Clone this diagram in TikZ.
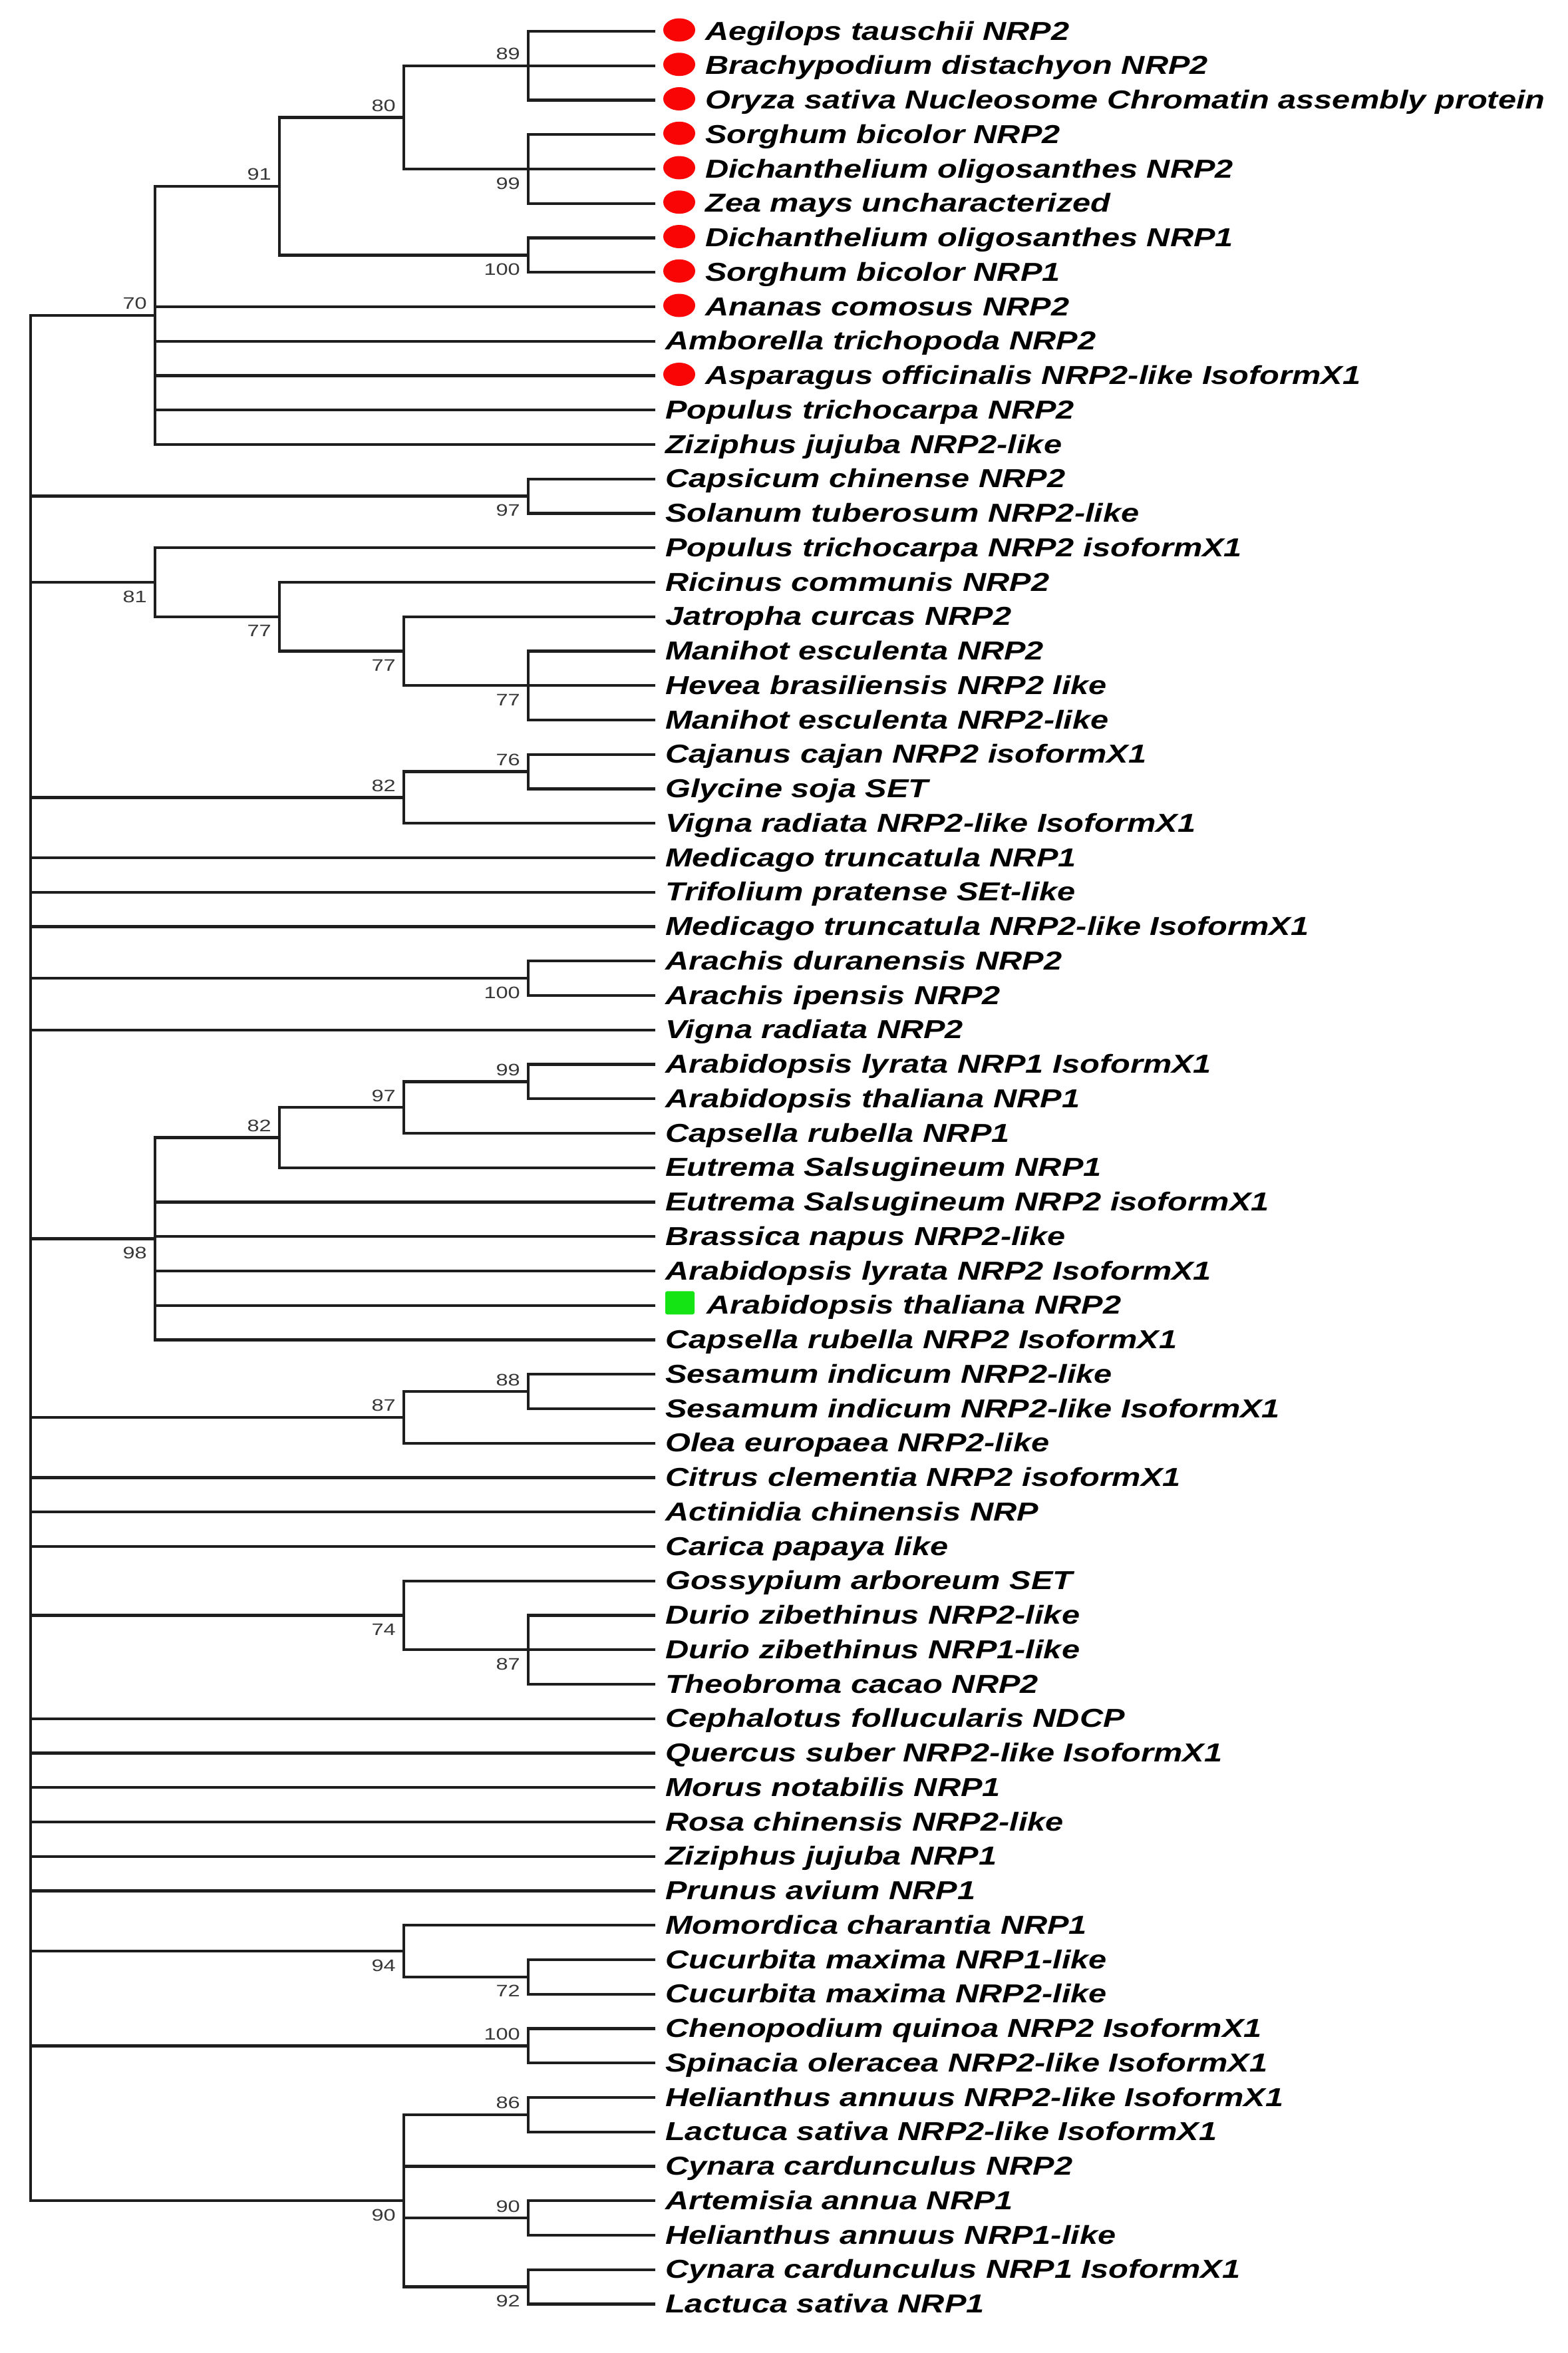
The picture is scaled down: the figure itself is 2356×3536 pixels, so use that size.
\documentclass[tikz,border=0pt]{standalone}
\usepackage{fontspec}
\newfontfamily\leaffont{Liberation Sans}[FakeStretch=1.25]
\newfontfamily\bsfont{Liberation Sans}[FakeStretch=1.3]
\definecolor{dotred}{RGB}{250,5,5}
\definecolor{sqgreen}{RGB}{20,228,20}
\definecolor{branchcol}{RGB}{30,30,30}
\definecolor{bscol}{RGB}{55,55,55}
\pgfmathdeclarefunction{ly}{1}{\pgfmathparse{47+51.75*#1}}
\tikzset{
  br/.style={draw=branchcol, line width=4.4pt, line cap=rect},
  leaftext/.style={anchor=base west, inner sep=0pt, font={\leaffont\fontsize{39pt}{39pt}\selectfont\bfseries\itshape}},
  reddot/.style={ellipse, fill=dotred, minimum width=48pt, minimum height=35pt, inner sep=0pt},
  greensq/.style={rectangle, rounded corners=3pt, fill=sqgreen, minimum width=44pt, minimum height=35pt, inner sep=0pt},
  bs/.style={inner sep=0pt, text=bscol, font={\bsfont\fontsize{25pt}{25pt}\selectfont}},
  bsup/.style={bs, anchor=base east, xshift=-12pt, yshift=9pt},
  bsdn/.style={bs, anchor=base east, xshift=-12pt, yshift=-30pt}
}
\usetikzlibrary{shapes.geometric}
\begin{document}
\begin{tikzpicture}[x=1pt,y=-1pt]
\fill[white] (0,0) rectangle (2356,3536);
\useasboundingbox (0,0) rectangle (2356,3536);

% leaves with red markers
\foreach \i/\t in {0/Aegilops tauschii NRP2, 1/Brachypodium distachyon NRP2,
  2/Oryza sativa Nucleosome Chromatin assembly protein, 3/Sorghum bicolor NRP2,
  4/Dichanthelium oligosanthes NRP2, 5/Zea mays uncharacterized,
  6/Dichanthelium oligosanthes NRP1, 7/Sorghum bicolor NRP1,
  8/Ananas comosus NRP2, 10/Asparagus officinalis NRP2-like IsoformX1}{
  \coordinate (L\i) at (983,{ly(\i)});
  \node[reddot] (M\i) at (1021,{ly(\i)-2}) {};
  \node[leaftext] (T\i) at (1060,{ly(\i)+13}) {\t};
}
% leaf with green marker
\coordinate (L37) at (983,{ly(37)});
\node[greensq] (M37) at (1022,{ly(37)-4}) {};
\node[leaftext] (T37) at (1062,{ly(37)+13}) {Arabidopsis thaliana NRP2};
% plain leaves
\foreach \i/\t in {9/Amborella trichopoda NRP2, 11/Populus trichocarpa NRP2,
  12/Ziziphus jujuba NRP2-like, 13/Capsicum chinense NRP2,
  14/Solanum tuberosum NRP2-like, 15/Populus trichocarpa NRP2 isoformX1,
  16/Ricinus communis NRP2, 17/Jatropha curcas NRP2, 18/Manihot esculenta NRP2,
  19/Hevea brasiliensis NRP2 like, 20/Manihot esculenta NRP2-like,
  21/Cajanus cajan NRP2 isoformX1, 22/Glycine soja SET,
  23/Vigna radiata NRP2-like IsoformX1, 24/Medicago truncatula NRP1,
  25/Trifolium pratense SEt-like, 26/Medicago truncatula NRP2-like IsoformX1,
  27/Arachis duranensis NRP2, 28/Arachis ipensis NRP2, 29/Vigna radiata NRP2,
  30/Arabidopsis lyrata NRP1 IsoformX1, 31/Arabidopsis thaliana NRP1,
  32/Capsella rubella NRP1, 33/Eutrema Salsugineum NRP1,
  34/Eutrema Salsugineum NRP2 isoformX1, 35/Brassica napus NRP2-like,
  36/Arabidopsis lyrata NRP2 IsoformX1, 38/Capsella rubella NRP2 IsoformX1,
  39/Sesamum indicum NRP2-like, 40/Sesamum indicum NRP2-like IsoformX1,
  41/Olea europaea NRP2-like, 42/Citrus clementia NRP2 isoformX1,
  43/Actinidia chinensis NRP, 44/Carica papaya like, 45/Gossypium arboreum SET,
  46/Durio zibethinus NRP2-like, 47/Durio zibethinus NRP1-like,
  48/Theobroma cacao NRP2, 49/Cephalotus follucularis NDCP,
  50/Quercus suber NRP2-like IsoformX1, 51/Morus notabilis NRP1,
  52/Rosa chinensis NRP2-like, 53/Ziziphus jujuba NRP1, 54/Prunus avium NRP1,
  55/Momordica charantia NRP1, 56/Cucurbita maxima NRP1-like,
  57/Cucurbita maxima NRP2-like, 58/Chenopodium quinoa NRP2 IsoformX1,
  59/Spinacia oleracea NRP2-like IsoformX1, 60/Helianthus annuus NRP2-like IsoformX1,
  61/Lactuca sativa NRP2-like IsoformX1, 62/Cynara cardunculus NRP2,
  63/Artemisia annua NRP1, 64/Helianthus annuus NRP1-like,
  65/Cynara cardunculus NRP1 IsoformX1, 66/Lactuca sativa NRP1}{
  \coordinate (L\i) at (983,{ly(\i)});
  \node[leaftext] (T\i) at (1000,{ly(\i)+13}) {\t};
}

% internal nodes
\coordinate (root) at (46,{ly(35.625)});
\coordinate (n89) at (794,{ly(1)});
\coordinate (n99a) at (794,{ly(4)});
\coordinate (n80) at (607,{ly(2.5)});
\coordinate (n100a) at (794,{ly(6.5)});
\coordinate (n91) at (420,{ly(4.5)});
\coordinate (n70) at (233,{ly(8.25)});
\coordinate (n97a) at (794,{ly(13.5)});
\coordinate (n77c) at (794,{ly(19)});
\coordinate (n77b) at (607,{ly(18)});
\coordinate (n77a) at (420,{ly(17)});
\coordinate (n81) at (233,{ly(16)});
\coordinate (n76) at (794,{ly(21.5)});
\coordinate (n82a) at (607,{ly(22.25)});
\coordinate (n100b) at (794,{ly(27.5)});
\coordinate (n99b) at (794,{ly(30.5)});
\coordinate (n97b) at (607,{ly(31.25)});
\coordinate (n82b) at (420,{ly(32.125)});
\coordinate (n98) at (233,{ly(35.0625)});
\coordinate (n88) at (794,{ly(39.5)});
\coordinate (n87a) at (607,{ly(40.25)});
\coordinate (n87b) at (794,{ly(47)});
\coordinate (n74) at (607,{ly(46)});
\coordinate (n72) at (794,{ly(56.5)});
\coordinate (n94) at (607,{ly(55.75)});
\coordinate (n100c) at (794,{ly(58.5)});
\coordinate (n86) at (794,{ly(60.5)});
\coordinate (n90b) at (794,{ly(63.5)});
\coordinate (n92) at (794,{ly(65.5)});
\coordinate (n90a) at (607,{ly(63)});

% branches
\foreach \p/\c in {n89/L0, n89/L1, n89/L2, n99a/L3, n99a/L4, n99a/L5,
  n80/n89, n80/n99a, n100a/L6, n100a/L7, n91/n80, n91/n100a,
  n70/n91, n70/L8, n70/L9, n70/L10, n70/L11, n70/L12,
  n97a/L13, n97a/L14,
  n77c/L18, n77c/L19, n77c/L20, n77b/L17, n77b/n77c, n77a/L16, n77a/n77b,
  n81/L15, n81/n77a,
  n76/L21, n76/L22, n82a/n76, n82a/L23,
  n100b/L27, n100b/L28,
  n99b/L30, n99b/L31, n97b/n99b, n97b/L32, n82b/n97b, n82b/L33,
  n98/n82b, n98/L34, n98/L35, n98/L36, n98/L37, n98/L38,
  n88/L39, n88/L40, n87a/n88, n87a/L41,
  n87b/L46, n87b/L47, n87b/L48, n74/L45, n74/n87b,
  n72/L56, n72/L57, n94/L55, n94/n72,
  n100c/L58, n100c/L59,
  n86/L60, n86/L61, n90b/L63, n90b/L64, n92/L65, n92/L66,
  n90a/n86, n90a/L62, n90a/n90b, n90a/n92,
  root/n70, root/n97a, root/n81, root/n82a, root/L24, root/L25, root/L26,
  root/n100b, root/L29, root/n98, root/n87a, root/L42, root/L43, root/L44,
  root/n74, root/L49, root/L50, root/L51, root/L52, root/L53, root/L54,
  root/n94, root/n100c, root/n90a}{
  \draw[br] (\p) |- (\c);
}

% bootstrap values
\node[bsup] (b89) at (n89) {89};
\node[bsup] (b80) at (n80) {80};
\node[bsdn] (b99a) at (n99a) {99};
\node[bsdn] (b100a) at (n100a) {100};
\node[bsup] (b91) at (n91) {91};
\node[bsup] (b70) at (n70) {70};
\node[bsdn] (b97a) at (n97a) {97};
\node[bsdn] (b77c) at (n77c) {77};
\node[bsdn] (b77b) at (n77b) {77};
\node[bsdn] (b77a) at (n77a) {77};
\node[bsdn] (b81) at (n81) {81};
\node[bsup] (b76) at (n76) {76};
\node[bsup] (b82a) at (n82a) {82};
\node[bsdn] (b100b) at (n100b) {100};
\node[bsup] (b99b) at (n99b) {99};
\node[bsup] (b97b) at (n97b) {97};
\node[bsup] (b82b) at (n82b) {82};
\node[bsdn] (b98) at (n98) {98};
\node[bsup] (b88) at (n88) {88};
\node[bsup] (b87a) at (n87a) {87};
\node[bsdn] (b87b) at (n87b) {87};
\node[bsdn] (b74) at (n74) {74};
\node[bsdn] (b72) at (n72) {72};
\node[bsdn] (b94) at (n94) {94};
\node[bsup] (b100c) at (n100c) {100};
\node[bsup] (b86) at (n86) {86};
\node[bsup] (b90b) at (n90b) {90};
\node[bsdn] (b92) at (n92) {92};
\node[bsdn] (b90a) at (n90a) {90};
\end{tikzpicture}
\end{document}
